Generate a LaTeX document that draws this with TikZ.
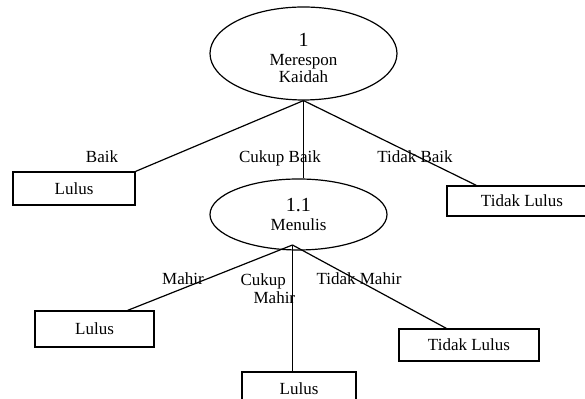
\documentclass[tikz,border=0pt]{standalone}
\usepackage{fontspec}
\setmainfont{Liberation Serif}
\usetikzlibrary{shapes.geometric}

\begin{document}
\begin{tikzpicture}[x=0.5pt, y=-0.5pt, line width=0.6pt,
    font=\fontsize{8.5}{9}\selectfont,
    proses/.style={draw, ellipse, inner sep=0pt, align=center},
    hasil/.style={draw, rectangle, inner sep=0pt},
    ket/.style={inner sep=0pt, anchor=base}]
    \useasboundingbox (0,0) rectangle (585,399);

    % Merespon Kaidah
    \node[proses, minimum width=93.5pt, minimum height=46.5pt] (kaidah) at (303.5,53.5) {};
    \node[inner sep=0pt, align=center] (kaidahteks) at (303.5,58)
        {{\fontsize{10}{10}\selectfont 1}\\[0.5pt] Merespon\\[-0.5pt] Kaidah};
    \node[hasil, minimum width=61pt, minimum height=16.5pt] (lulusA) at (74,188.5) {Lulus};
    \node[hasil, minimum width=75pt, minimum height=15pt] (tdkA) at (522,201) {Tidak Lulus};
    \node[proses, minimum width=88.5pt, minimum height=35.5pt] (menulis) at (298.5,214.5)
        {{\fontsize{10}{10}\selectfont 1.1}\\[0.5pt] Menulis};

    \draw (kaidah.south) -- (lulusA.north east);
    \draw (kaidah.south) -- (kaidah.south |- menulis.north);
    \draw (kaidah.south) -- ([xshift=15pt]tdkA.north west);
    \node[ket] (baik) at (102,163) {Baik};
    \node[ket] (cbaik) at (280,163) {Cukup Baik};
    \node[ket] (tbaik) at (415,163) {Tidak Baik};

    % Menulis
    \node[hasil, minimum width=59.5pt, minimum height=18pt] (lulusB) at (94.5,329) {Lulus};
    \node[hasil, minimum width=70pt, minimum height=16pt] (tdkB) at (469,345) {Tidak Lulus};
    \node[hasil, minimum width=57pt, minimum height=17pt] (lulusC) at (299,389) {Lulus};
    \coordinate (cabang) at (292.5,245);

    \draw (cabang) -- ([xshift=-13.5pt]lulusB.north east);
    \draw (cabang) -- (cabang |- lulusC.north);
    \draw (cabang) -- ([xshift=24pt]tdkB.north west);
    \node[ket] (mahir) at (183,285) {Mahir};
    \node[ket, align=left, anchor=north west] (cmahir) at (240,273) {Cukup\\\hspace*{6.5pt}Mahir};
    \node[ket] (tmahir) at (359,285) {Tidak Mahir};
\end{tikzpicture}
\end{document}
